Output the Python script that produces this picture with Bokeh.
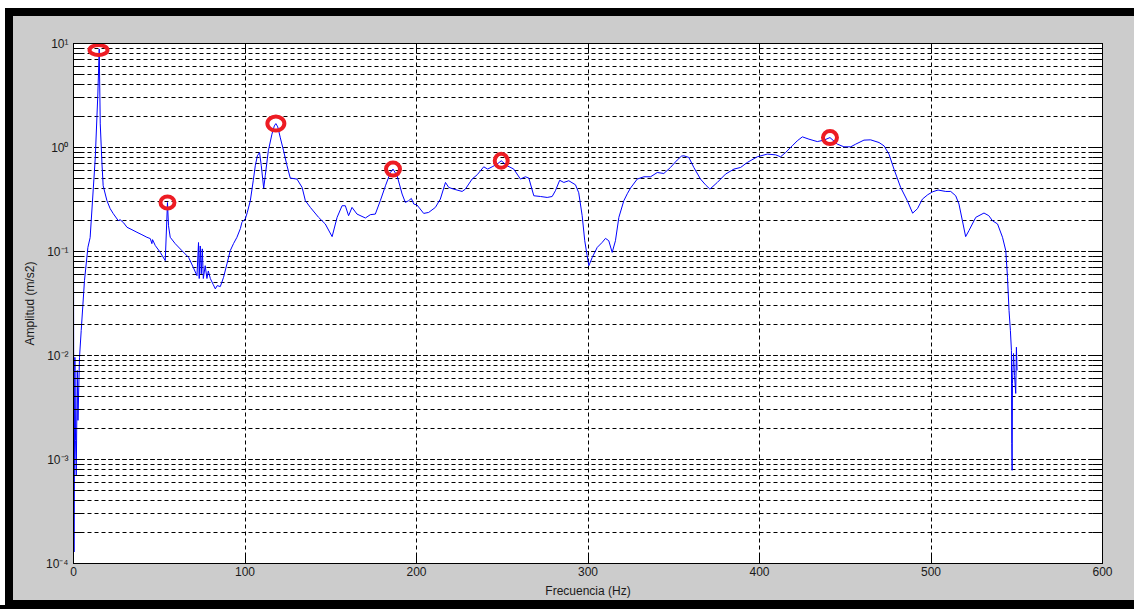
from bokeh.plotting import figure
from bokeh.models import (LogAxis, LinearAxis, SingleIntervalTicker, LogTicker,
                          CustomJSTickFormatter, Range1d)
from bokeh.embed import file_html
from bokeh.resources import INLINE

# Acceleration spectrum (frequency in Hz, amplitude in m/s2)
freq = [0, 0.3, 0.8, 1.2, 1.6, 2.2, 2.6, 3.5, 4.5, 6.4, 8.4, 9.7,
        12.7, 14.2, 15.0, 15.6, 16.6, 17.3, 19.5, 21.4, 23.2, 26.1, 27.2, 29.2,
        31.2, 34.1, 37.0, 39.9, 42.8, 44.8, 45.7, 46.1, 47.7, 50.6, 53.5, 54.8,
        55.4, 56.4, 59.3, 63.2, 67.1, 69.8, 72.0, 72.9, 73.3, 73.9, 74.5, 75.1,
        75.7, 76.8, 77.8, 78.6, 79.8, 81.5, 82.7, 83.8, 85.6, 87.5, 89.5, 91.4,
        93.3, 95.3, 97.3, 98.2, 100.2, 101.3, 103.1, 104.8, 106.0, 107.2, 108.5, 109.5,
        110.9, 111.8, 113.6, 115.7, 117.1, 118.0, 119.1, 120.6, 122.5, 124.5, 126.4, 130.3,
        133.3, 135.2, 138.1, 142.9, 146.8, 150.8, 153.7, 156.6, 158.5, 160.4, 162.4, 165.3,
        170.2, 173.1, 176.0, 178.9, 181.9, 184.8, 186.3, 188.7, 191.6, 193.5, 195.4, 197.0,
        198.4, 200.3, 204.2, 207.1, 211.0, 213.9, 216.9, 218.8, 221.7, 226.6, 228.5, 232.4,
        235.4, 239.2, 241.5, 244.1, 247.0, 249.4, 252.9, 256.7, 260.6, 263.5, 265.5, 268.4,
        272.3, 276.2, 279.1, 281.0, 283.5, 285.9, 288.8, 292.7, 294.6, 296.6, 298.1, 299.5,
        300.5, 302.5, 305.4, 308.3, 310.2, 312.1, 314.1, 316.0, 318.0, 320.9, 322.9, 324.8,
        328.7, 332.6, 336.5, 340.4, 344.2, 348.1, 352.0, 354.5, 355.9, 358.8, 361.7, 365.6,
        368.5, 371.1, 375.4, 380.2, 385.1, 389.0, 392.9, 398.7, 404.5, 409.4, 412.3, 415.2,
        419.1, 422.0, 425.0, 428.8, 433.7, 437.6, 441.1, 445.4, 449.2, 453.2, 456.1, 460.9,
        464.8, 469.7, 472.6, 475.5, 478.4, 482.3, 486.2, 489.3, 492.1, 495.0, 498.1, 501.0,
        504.1, 508.6, 511.5, 514.4, 516.3, 518.3, 520.2, 522.1, 526.1, 530.9, 533.7, 535.8,
        538.8, 541.7, 543.6, 544.6, 545.5, 546.3, 546.9, 547.1, 547.3, 547.5, 548.1, 548.7,
        549.4, 549.8, 550.2]

amp = [0.119, 0.000129, 0.0096, 0.00153, 0.000705, 0.00718, 0.00238, 0.0096, 0.0174, 0.0525, 0.1096, 0.136,
       0.796, 3.27, 8.86, 1.687, 0.697, 0.429, 0.308, 0.258, 0.231, 0.198, 0.202, 0.189,
       0.171, 0.162, 0.153, 0.145, 0.137, 0.133, 0.119, 0.130, 0.114, 0.098, 0.0817, 0.296,
       0.177, 0.137, 0.119, 0.102, 0.0879, 0.0705, 0.0586, 0.122, 0.055, 0.113, 0.061, 0.106,
       0.055, 0.073, 0.055, 0.065, 0.0549, 0.048, 0.0437, 0.047, 0.046, 0.0565, 0.0764, 0.102,
       0.119, 0.137, 0.166, 0.1905, 0.2067, 0.236, 0.308, 0.479, 0.667, 0.832, 0.895, 0.667,
       0.406, 0.535, 0.929, 1.343, 1.614, 1.698, 1.579, 1.238, 0.929, 0.667, 0.508, 0.497,
       0.413, 0.308, 0.2655, 0.213, 0.184, 0.139, 0.213, 0.2755, 0.2755, 0.221, 0.2655, 0.229,
       0.210, 0.226, 0.229, 0.308, 0.4285, 0.575, 0.620, 0.535, 0.357, 0.2965, 0.308, 0.3237,
       0.286, 0.280, 0.2324, 0.2375, 0.2655, 0.319, 0.4613, 0.413, 0.398, 0.378, 0.398, 0.497,
       0.547, 0.652, 0.620, 0.652, 0.692, 0.745, 0.667, 0.620, 0.497, 0.523, 0.508, 0.3435,
       0.338, 0.331, 0.338, 0.384, 0.484, 0.4613, 0.479, 0.438, 0.367, 0.221, 0.127, 0.0912,
       0.0731, 0.0879, 0.1096, 0.1225, 0.1337, 0.127, 0.098, 0.127, 0.213, 0.308, 0.359, 0.4075,
       0.497, 0.523, 0.523, 0.575, 0.5625, 0.643, 0.757, 0.826, 0.832, 0.802, 0.643, 0.497,
       0.438, 0.398, 0.4613, 0.555, 0.620, 0.643, 0.718, 0.814, 0.864, 0.850, 0.814, 0.895,
       1.037, 1.159, 1.266, 1.203, 1.140, 1.177, 1.246, 1.077, 1.015, 1.015, 1.077, 1.177,
       1.185, 1.116, 1.037, 0.864, 0.620, 0.413, 0.308, 0.2335, 0.258, 0.319, 0.3515, 0.3754,
       0.390, 0.378, 0.378, 0.3435, 0.286, 0.198, 0.139, 0.1585, 0.213, 0.2344, 0.221, 0.198,
       0.184, 0.137, 0.102, 0.0565, 0.027, 0.0174, 0.01117, 0.00143, 0.000787, 0.00538, 0.01045, 0.00643,
       0.00432, 0.0120, 0.00718]

assert len(freq) == len(amp)

# Highlighted peaks
peak_freq = [14.6, 54.8, 118.0, 186.3, 249.4, 441.1]
peak_amp = [8.66, 0.296, 1.698, 0.620, 0.745, 1.246]

# ring outline sizes (screen pixels)
ring_w = [18, 14, 17, 14, 13, 14]
ring_h = [10, 12, 14, 13, 14, 13]

x_ticks_step = 100
FONT = "Liberation Sans"
TEXT = "#1a1a1a"
GRID_DASH = "4 3"

# The canvas border is left transparent; the window chrome (gray panel,
# black frame bands, white edges) is painted by the host element's CSS.
window_bg = ("linear-gradient(#fff,#fff) 0 0/100% 8px no-repeat, "
             "linear-gradient(#fff,#fff) 0 0/5px 100% no-repeat, "
             "linear-gradient(#000,#000) 0 8px/100% 8px no-repeat, "
             "linear-gradient(#000,#000) 5px 0/8px 100% no-repeat, "
             "linear-gradient(#000,#000) 0 100%/100% 5px no-repeat, "
             "#cccccc")

p = figure(width=1134, height=605,
           x_range=Range1d(0, 600), y_range=Range1d(1e-4, 10),
           y_axis_type="log", output_backend="svg", toolbar_location=None,
           min_border_left=73, min_border_right=32,
           min_border_top=43, min_border_bottom=42,
           background_fill_color="white", border_fill_color=None,
           outline_line_color="black", outline_line_width=1,
           styles={"background": window_bg, "vertical-align": "top"})

xticker = SingleIntervalTicker(interval=x_ticks_step, num_minor_ticks=0)
yticker = LogTicker(desired_num_ticks=6, num_minor_ticks=10)

p.xaxis.ticker = xticker
p.xgrid.ticker = xticker
p.yaxis.ticker = yticker

sup_code = """
const sup = {"-": "\u207b", "0": "\u2070", "1": "\u00b9", "2": "\u00b2", "3": "\u00b3",
             "4": "\u2074", "5": "\u2075", "6": "\u2076", "7": "\u2077", "8": "\u2078", "9": "\u2079"};
const e = Math.round(Math.log10(tick));
return "10" + String(e).split("").map(c => sup[c]).join("");
"""
p.yaxis.formatter = CustomJSTickFormatter(code=sup_code)

for ax in (p.xaxis[0], p.yaxis[0]):
    ax.major_tick_in = 10
    ax.major_tick_out = 0
    ax.minor_tick_in = 10
    ax.minor_tick_out = 0
    ax.axis_line_color = "black"
    ax.major_tick_line_color = "black"
    ax.minor_tick_line_color = "black"
    ax.major_label_text_font = FONT
    ax.major_label_text_font_size = "12px"
    ax.major_label_text_color = TEXT
    ax.axis_label_text_font = FONT
    ax.axis_label_text_font_size = "12px"
    ax.axis_label_text_font_style = "normal"
    ax.axis_label_text_color = TEXT

p.xaxis.axis_label = "Frecuencia (Hz)"
p.yaxis.axis_label = "Amplitud (m/s2)"
p.xaxis.major_label_standoff = 3
p.xaxis.axis_label_standoff = 5
p.yaxis.major_label_standoff = 5
p.yaxis.axis_label_standoff = 6

blank = CustomJSTickFormatter(code="return '';")
right_axis = LogAxis(ticker=yticker, formatter=blank,
                     major_tick_in=10, major_tick_out=0,
                     minor_tick_in=10, minor_tick_out=0,
                     axis_line_color="black")
top_axis = LinearAxis(ticker=xticker, formatter=blank,
                      major_tick_in=10, major_tick_out=0,
                      minor_tick_in=0, minor_tick_out=0,
                      axis_line_color="black")
p.add_layout(right_axis, "right")
p.add_layout(top_axis, "above")

# dotted MATLAB-style grid
p.xgrid.grid_line_color = "black"
p.xgrid.grid_line_dash = GRID_DASH
p.ygrid.grid_line_color = "black"
p.ygrid.grid_line_dash = GRID_DASH
p.ygrid.minor_grid_line_color = "black"
p.ygrid.minor_grid_line_dash = GRID_DASH

p.line(freq, amp, line_color="#0000ff", line_width=1)
p.ellipse(x=peak_freq, y=peak_amp, width=ring_w, height=ring_h,
          width_units="screen", height_units="screen",
          fill_color=None, line_color="#ed1c24", line_width=4)

# page below the figure continues the black bottom band
html = file_html(p, INLINE)
html = html.replace("</head>",
                    "<style>html, body { margin: 0; padding: 0; overflow: hidden; "
                    "background: #000; }</style></head>", 1)
open("out.html", "w").write(html)
